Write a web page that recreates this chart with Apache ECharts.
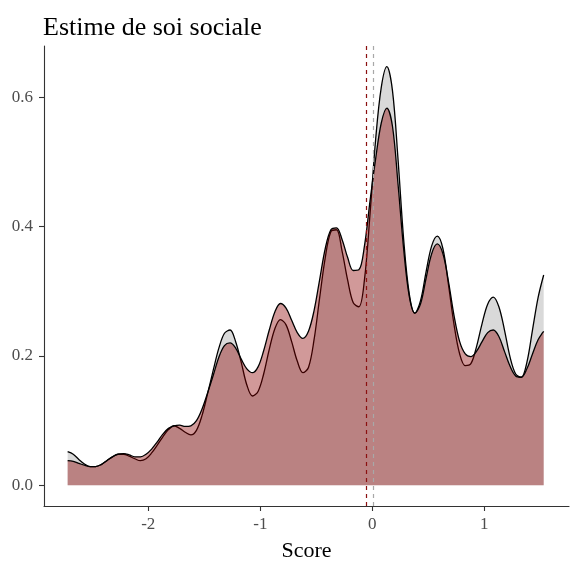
<!DOCTYPE html>
<html>
<head>
<meta charset="utf-8">
<script src="https://cdn.jsdelivr.net/npm/echarts@6/dist/echarts.min.js"></script>
<style>
html,body{margin:0;padding:0;background:#fff;}
#chart{width:573px;height:569px;}
</style>
</head>
<body>
<div id="chart"></div>
<script>
const scoreX = [-2.72,-2.67,-2.62,-2.57,-2.52,-2.47,-2.42,-2.37,-2.32,-2.27,-2.22,-2.17,-2.12,-2.07,-2.02,-1.97,-1.92,-1.87,-1.82,-1.77,-1.72,-1.67,-1.62,-1.57,-1.52,-1.47,-1.42,-1.37,-1.32,-1.27,-1.22,-1.17,-1.12,-1.07,-1.02,-0.97,-0.92,-0.87,-0.82,-0.77,-0.72,-0.67,-0.62,-0.57,-0.52,-0.47,-0.42,-0.37,-0.32,-0.27,-0.22,-0.17,-0.12,-0.07,-0.02,0.03,0.08,0.13,0.18,0.23,0.28,0.33,0.38,0.43,0.48,0.53,0.58,0.63,0.68,0.73,0.78,0.83,0.88,0.93,0.98,1.03,1.08,1.13,1.18,1.23,1.28,1.33,1.38,1.43,1.48,1.53];
const densityGrey = [0.052,0.048,0.040,0.033,0.029,0.029,0.032,0.038,0.044,0.048,0.048,0.045,0.041,0.038,0.041,0.050,0.062,0.075,0.086,0.092,0.088,0.082,0.078,0.085,0.108,0.142,0.178,0.212,0.235,0.240,0.222,0.190,0.155,0.138,0.145,0.172,0.210,0.242,0.256,0.248,0.222,0.192,0.174,0.182,0.225,0.290,0.352,0.392,0.395,0.362,0.317,0.282,0.276,0.318,0.420,0.535,0.615,0.647,0.610,0.503,0.380,0.296,0.266,0.285,0.330,0.370,0.385,0.366,0.310,0.248,0.203,0.185,0.188,0.214,0.250,0.280,0.291,0.276,0.240,0.198,0.172,0.167,0.190,0.240,0.290,0.325];
const densityRed = [0.038,0.037,0.034,0.031,0.029,0.029,0.032,0.038,0.044,0.048,0.049,0.047,0.044,0.044,0.048,0.056,0.067,0.079,0.088,0.092,0.093,0.091,0.092,0.100,0.118,0.143,0.170,0.198,0.216,0.220,0.212,0.195,0.180,0.174,0.183,0.208,0.240,0.268,0.281,0.274,0.255,0.236,0.227,0.238,0.270,0.318,0.366,0.395,0.398,0.380,0.352,0.332,0.333,0.370,0.440,0.505,0.560,0.583,0.555,0.465,0.365,0.292,0.266,0.280,0.320,0.358,0.373,0.358,0.315,0.262,0.222,0.203,0.199,0.207,0.222,0.236,0.240,0.230,0.207,0.184,0.169,0.167,0.180,0.203,0.225,0.238];
const meanRed = -0.05;
const meanGrey = 0.01;
const xTicks = [-2, -1, 0, 1];
const yTicks = [0, 0.2, 0.4, 0.6];
const titleText = 'Estime de soi sociale';
const xName = 'Score';

const pairs = (ys) => scoreX.map((x, i) => [x, ys[i]]);
const chart = echarts.init(document.getElementById('chart'), null, {renderer: 'canvas'});
const serif = "'Liberation Serif', 'Times New Roman', serif";

chart.setOption({
  animation: false,
  backgroundColor: '#ffffff',
  title: {
    text: titleText,
    left: 38,
    top: 10,
    textStyle: {fontFamily: serif, fontSize: 26, fontWeight: 'normal', color: '#000', lineHeight: 26}
  },
  grid: {left: 44, right: 4, top: 46, bottom: 63, containLabel: false, outerBoundsMode: 'none'},
  xAxis: {
    type: 'value',
    min: -2.931, max: 1.756,
    name: xName,
    nameLocation: 'middle',
    nameGap: 34,
    nameTextStyle: {fontFamily: serif, fontSize: 22, color: '#000'},
    axisLine: {show: true, onZero: false, lineStyle: {color: '#333', width: 1.1}},
    axisTick: {show: true, length: 5, customValues: xTicks, lineStyle: {color: '#333', width: 1.1}},
    axisLabel: {customValues: xTicks, fontFamily: serif, fontSize: 17, color: '#4d4d4d', margin: 10},
    splitLine: {show: false}
  },
  yAxis: {
    type: 'value',
    min: -0.032, max: 0.679,
    axisLine: {show: true, onZero: false, lineStyle: {color: '#333', width: 1.1}},
    axisTick: {show: true, length: 5, customValues: yTicks, lineStyle: {color: '#333', width: 1.1}},
    axisLabel: {customValues: yTicks, fontFamily: serif, fontSize: 17, color: '#4d4d4d', margin: 11,
      formatter: v => Number(v).toFixed(1)},
    splitLine: {show: false}
  },
  series: [
    {
      type: 'line',
      data: pairs(densityGrey),
      showSymbol: false,
      smooth: 0.35,
      lineStyle: {color: '#000', width: 1.3},
      areaStyle: {color: '#d9d9d9', opacity: 1, origin: 'auto'},
      z: 2,
      markLine: {
        silent: true, symbol: 'none', label: {show: false},
        lineStyle: {color: '#a8a8a8', type: [4, 4], width: 1.2},
        data: [{xAxis: meanGrey}]
      }
    },
    {
      type: 'line',
      data: pairs(densityRed),
      showSymbol: false,
      smooth: 0.35,
      lineStyle: {color: '#000', width: 1.3},
      areaStyle: {color: 'rgba(139,0,0,0.4)', opacity: 1, origin: 'auto'},
      z: 3,
      markLine: {
        silent: true, symbol: 'none', label: {show: false},
        lineStyle: {color: '#8b1010', type: [4, 4], width: 1.2},
        data: [{xAxis: meanRed}]
      }
    }
  ]
});
</script>
</body>
</html>
